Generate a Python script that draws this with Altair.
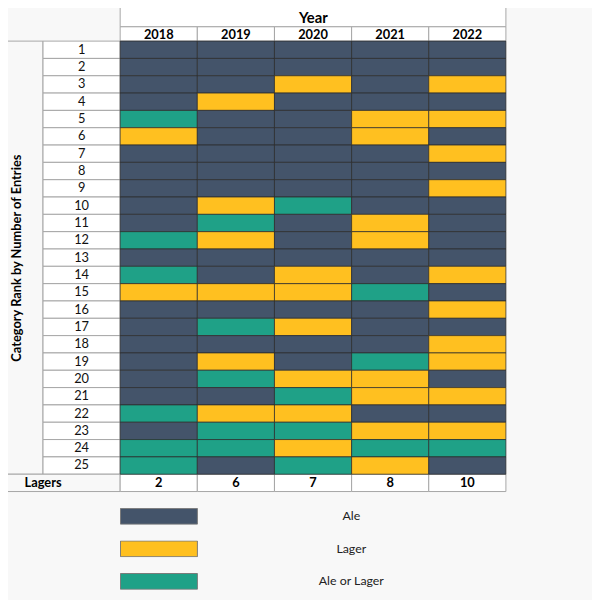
import altair as alt
import pandas as pd

# ---------------- data ----------------
years = [2018, 2019, 2020, 2021, 2022]
ranks = list(range(1, 26))
type_names = {"A": "Ale", "L": "Lager", "T": "Ale or Lager"}
types_2018 = list("AAAATLAAAAATATLAAAAAATATT")
types_2019 = list("AAALAAAAALTLAALATALTALTTA")
types_2020 = list("AALAAAAAATAAALLALAALTLTLT")
types_2021 = list("AAAALLAAAALLAATAAATLLALTL")
types_2022 = list("AALALALALAAAALALALLALALTA")
lagers = [2, 6, 7, 8, 10]
legend_order = ["Ale", "Lager", "Ale or Lager"]
legend_colors = ["#44546A", "#FFC020", "#1FA187"]
x_title = "Year"
y_title = "Category Rank by Number of Entries"
total_label = "Lagers"

# ---------------- layout ----------------
FONT = "Lato"
W, H = 592, 592
X_DOMAIN = [2016.546, 2024.116]          # one unit = one table column
Y_DOMAIN = [-1.18, 32.53]                # one unit = one table row
HEADER_BOTTOM = -0.326
YEAR_LABEL_Y = 0.13
LAGER_ROW = 26
GRID_GRAY = "#a6a6a6"
CELL_EDGE = "#2b2b2b"

xs = alt.Scale(domain=X_DOMAIN, nice=False, zero=False)
ys = alt.Scale(domain=Y_DOMAIN, nice=False, zero=False, reverse=True)
x_axis = alt.Axis(title=x_title, orient="top", labels=False, ticks=False, domain=False,
                  grid=False, titleX=309, titleY=11, titleFontSize=15, titleFont=FONT,
                  titleFontWeight="bold", titleColor="#000000", titleAlign="center",
                  titleBaseline="alphabetic", titleAngle=0, zindex=2)
y_axis = alt.Axis(title=y_title, orient="left", labels=False, ticks=False, domain=False,
                  grid=False, titleX=9, titleY=249, titleFontSize=13, titleFont=FONT,
                  titleFontWeight="bold", titleColor="#000000", titleAlign="center",
                  titleBaseline="middle", titleAngle=270, zindex=2)


def X(f):
    return alt.X(f, type="quantitative", scale=xs, axis=x_axis)


def Y(f):
    return alt.Y(f, type="quantitative", scale=ys, axis=y_axis)


by_year = dict(zip(years, [types_2018, types_2019, types_2020, types_2021, types_2022]))
cells = pd.DataFrame([
    {"year": yr, "year_end": yr + 1, "rank": r, "top": r - 0.5, "bottom": r + 0.5,
     "type": type_names[by_year[yr][i]]}
    for yr in years for i, r in enumerate(ranks)
])
rank_cells = pd.DataFrame({"x0": [years[0] - 1] * len(ranks), "x1": [years[0]] * len(ranks),
                           "rank": ranks, "top": [r - 0.5 for r in ranks],
                           "bottom": [r + 0.5 for r in ranks],
                           "xm": [years[0] - 0.5] * len(ranks)})
year_cells = pd.DataFrame({"year": years, "year_end": [y + 1 for y in years],
                           "xm": [y + 0.5 for y in years],
                           "top": [HEADER_BOTTOM] * 5, "bottom": [0.5] * 5,
                           "ym": [YEAR_LABEL_Y] * 5, "label": [str(y) for y in years]})
header_cell = pd.DataFrame({"x0": [years[0]], "x1": [years[-1] + 1],
                            "top": [-3.0], "bottom": [HEADER_BOTTOM]})
title_cell = pd.DataFrame({"x0": [X_DOMAIN[0] - 0.3], "x1": [years[0] - 1],
                           "top": [0.5], "bottom": [len(ranks) + 0.5]})
lager_cells = pd.DataFrame({"year": years, "year_end": [y + 1 for y in years],
                            "xm": [y + 0.5 for y in years], "count": lagers,
                            "top": [LAGER_ROW - 0.5] * 5, "bottom": [LAGER_ROW + 0.5] * 5,
                            "ym": [LAGER_ROW] * 5})
lager_label = pd.DataFrame({"x0": [X_DOMAIN[0] - 0.3], "x1": [years[0]],
                            "xm": [years[0] - 1.0], "top": [LAGER_ROW - 0.5],
                            "bottom": [LAGER_ROW + 0.5], "ym": [LAGER_ROW],
                            "label": [total_label]})

white_rect = dict(fill="#ffffff", stroke=GRID_GRAY, strokeWidth=1)

title_layer = alt.Chart(title_cell).mark_rect(fill="#f8f8f8", stroke=GRID_GRAY, strokeWidth=1).encode(
    x=X("x0"), x2="x1", y=Y("top"), y2="bottom")
header_layer = alt.Chart(header_cell).mark_rect(**white_rect).encode(
    x=X("x0"), x2="x1", y=Y("top"), y2="bottom")
year_rects = alt.Chart(year_cells).mark_rect(**white_rect).encode(
    x=X("year"), x2="year_end", y=Y("top"), y2="bottom")
year_text = alt.Chart(year_cells).mark_text(font=FONT, fontSize=13, fontWeight="bold",
                                            color="#000000", baseline="middle").encode(
    x=X("xm"), y=Y("ym"), text="label:N")
rank_rects = alt.Chart(rank_cells).mark_rect(**white_rect).encode(
    x=X("x0"), x2="x1", y=Y("top"), y2="bottom")
rank_text = alt.Chart(rank_cells).mark_text(font=FONT, fontSize=13, color="#111111",
                                            baseline="middle").encode(
    x=X("xm"), y=Y("rank"), text="rank:Q")
lager_label_rect = alt.Chart(lager_label).mark_rect(fill="#f8f8f8", stroke=GRID_GRAY,
                                                    strokeWidth=1).encode(
    x=X("x0"), x2="x1", y=Y("top"), y2="bottom")
lager_label_text = alt.Chart(lager_label).mark_text(font=FONT, fontSize=13, fontWeight="bold",
                                                    color="#000000", baseline="middle").encode(
    x=X("xm"), y=Y("ym"), text="label:N")
lager_rects = alt.Chart(lager_cells).mark_rect(**white_rect).encode(
    x=X("year"), x2="year_end", y=Y("top"), y2="bottom")
lager_text = alt.Chart(lager_cells).mark_text(font=FONT, fontSize=13, fontWeight="bold",
                                              color="#000000", baseline="middle").encode(
    x=X("xm"), y=Y("ym"), text="count:Q")

color_cells = alt.Chart(cells).mark_rect(stroke=CELL_EDGE, strokeWidth=1, strokeOpacity=0.75,
                                         opacity=1).encode(
    x=X("year"), x2="year_end", y=Y("top"), y2="bottom",
    color=alt.Color("type:N",
                    scale=alt.Scale(domain=legend_order, range=legend_colors),
                    legend=alt.Legend(title=None, orient="none", legendX=113.5, legendY=502.7,
                                      direction="vertical", padding=0,
                                      symbolType="M-1,-0.205H1V0.205H-1Z", symbolSize=6084,
                                      symbolStrokeColor="#7a7a7a", symbolStrokeWidth=1,
                                      symbolOpacity=1, clipHeight=17, rowPadding=16,
                                      labelOffset=155.5, labelAlign="center",
                                      labelBaseline="middle", labelFont=FONT,
                                      labelFontSize=12.5, labelColor="#222222",
                                      labelLimit=200)))

chart = alt.layer(
    title_layer, header_layer, year_rects, rank_rects, lager_label_rect, lager_rects,
    color_cells, year_text, rank_text, lager_label_text, lager_text
).properties(
    width=W, height=H, autosize=alt.AutoSizeParams(type="none"), padding=0,
    background="#f8f8f8"
).configure_view(stroke=None)

chart.save("out.html", embed_options={"renderer": "svg", "actions": False})
